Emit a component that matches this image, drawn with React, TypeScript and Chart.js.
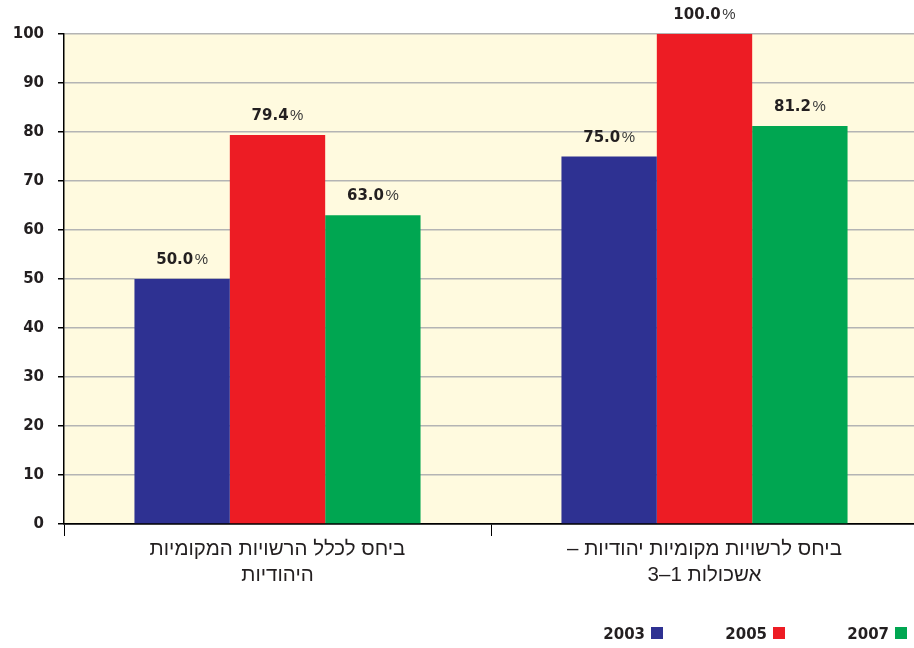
import React, { useEffect, useRef } from "react";
import { Chart, registerables } from "chart.js";

Chart.register(...registerables);

const categories: string[][] = [
  ["ביחס לכלל הרשויות המקומיות", "היהודיות"],
  ["ביחס לרשויות מקומיות יהודיות –", "אשכולות 1–3"],
];
const seriesLabels = ["2003", "2005", "2007"];
const values2003 = [50.0, 75.0];
const values2005 = [79.4, 100.0];
const values2007 = [63.0, 81.2];
const yTickValues = [0, 10, 20, 30, 40, 50, 60, 70, 80, 90, 100];
const seriesColors = ["#2E3192", "#ED1C24", "#00A651"];

const FONT = '"Liberation Sans", Arial, sans-serif';
const NUMFONT = '"DejaVu Sans", sans-serif';
const TEXT = "#231F20";

const bgPlugin = {
  id: "plotBg",
  beforeDraw(chart: any) {
    const { ctx, chartArea } = chart;
    ctx.save();
    ctx.fillStyle = "#FFFADF";
    ctx.fillRect(chartArea.left, chartArea.top, chartArea.right - chartArea.left, chartArea.bottom - chartArea.top);
    ctx.restore();
  },
};

const valueLabelPlugin = {
  id: "valueLabels",
  afterDatasetsDraw(chart: any) {
    const { ctx } = chart;
    ctx.save();
    ctx.textBaseline = "alphabetic";
    ctx.textAlign = "left";
    chart.data.datasets.forEach((ds: any, i: number) => {
      const meta = chart.getDatasetMeta(i);
      meta.data.forEach((bar: any, j: number) => {
        const num = Number(ds.data[j]).toFixed(1);
        ctx.font = `bold 15px ${NUMFONT}`;
        const w1 = ctx.measureText(num).width;
        ctx.font = `normal 15px ${FONT}`;
        const w2 = ctx.measureText("%").width;
        const gap = 1.5;
        const total = w1 + gap + w2;
        const x0 = bar.x - total / 2;
        const y = bar.y - 15;
        ctx.fillStyle = TEXT;
        ctx.font = `bold 15px ${NUMFONT}`;
        ctx.fillText(num, x0, y);
        ctx.fillStyle = "#3a3a3a";
        ctx.font = `normal 15px ${FONT}`;
        ctx.fillText("%", x0 + w1 + gap, y);
      });
    });
    ctx.restore();
  },
};

const legendPlugin = {
  id: "customLegend",
  afterDraw(chart: any) {
    const { ctx } = chart;
    const n = chart.data.datasets.length;
    const boxSize = 12;
    const step = 122;
    const lastBoxLeft = 895;
    const boxTop = 627;
    ctx.save();
    ctx.font = `bold 15px ${NUMFONT}`;
    ctx.textAlign = "right";
    ctx.textBaseline = "alphabetic";
    chart.data.datasets.forEach((ds: any, i: number) => {
      const bx = lastBoxLeft - (n - 1 - i) * step;
      ctx.fillStyle = ds.backgroundColor;
      ctx.fillRect(bx, boxTop, boxSize, boxSize);
      ctx.fillStyle = TEXT;
      ctx.fillText(ds.label, bx - 6, boxTop + boxSize);
    });
    ctx.restore();
  },
};

export default function App() {
  const canvasRef = useRef<HTMLCanvasElement | null>(null);

  useEffect(() => {
    document.body.style.margin = "0";
    const canvas = canvasRef.current;
    if (!canvas) return;
    const chart = new Chart(canvas, {
      type: "bar",
      data: {
        labels: categories,
        datasets: [
          { label: seriesLabels[0], data: values2003, backgroundColor: seriesColors[0] },
          { label: seriesLabels[1], data: values2005, backgroundColor: seriesColors[1] },
          { label: seriesLabels[2], data: values2007, backgroundColor: seriesColors[2] },
        ],
      },
      options: {
        responsive: false,
        animation: false,
        layout: { padding: { top: 34, right: 0, left: 1, bottom: 0 } },
        datasets: { bar: { categoryPercentage: 0.67, barPercentage: 1.0 } },
        plugins: {
          legend: { display: false },
          tooltip: { enabled: false },
        },
        scales: {
          x: {
            afterFit(scale: any) {
              scale.height = 124;
            },
            ticks: {
              font: { family: FONT, size: 20.5, weight: "normal", lineHeight: 1.27 },
              color: TEXT,
              padding: 0,
              maxRotation: 0,
              autoSkip: false,
            },
            grid: {
              drawOnChartArea: false,
              tickLength: 12,
              tickColor: "#000",
              lineWidth: 1,
            },
            border: { color: "#000", width: 1.5 },
          },
          y: {
            min: 0,
            max: 100,
            afterFit(scale: any) {
              scale.width = 63;
            },
            afterBuildTicks(scale: any) {
              scale.ticks = yTickValues.map((v) => ({ value: v }));
            },
            ticks: {
              font: { family: NUMFONT, size: 15, weight: "bold" },
              color: TEXT,
              padding: 14,
            },
            grid: {
              color: (c: any) => (c.tick && c.tick.value === 0 ? "#000" : "#B4B4B4"),
              lineWidth: 1.5,
              tickLength: 6,
              tickColor: "#000",
            },
            border: { color: "#000", width: 1.5 },
          },
        },
      },
      plugins: [bgPlugin, valueLabelPlugin, legendPlugin],
    });
    return () => chart.destroy();
  }, []);

  return (
    <div style={{ width: 914, height: 648, overflow: "hidden" }}>
      <canvas ref={canvasRef} width={918} height={648} dir="rtl" style={{ display: "block" }} />
    </div>
  );
}
